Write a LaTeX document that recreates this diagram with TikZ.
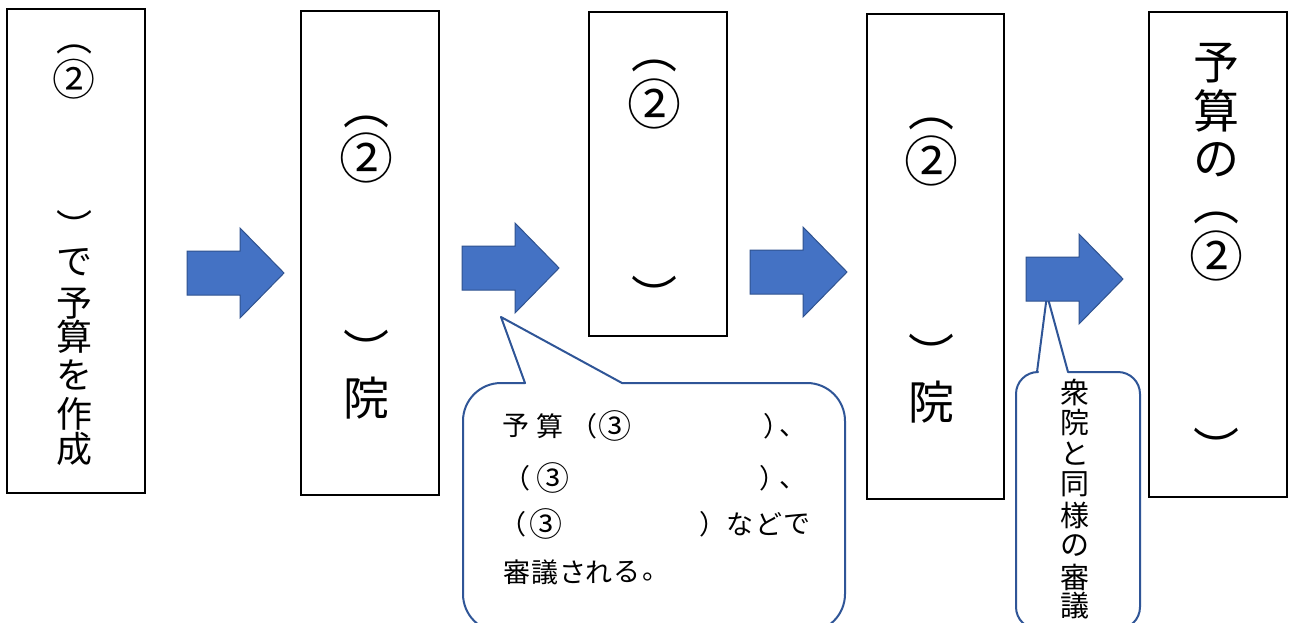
\documentclass[tikz,border=0pt]{standalone}
\usepackage{fontspec}
\newfontfamily\jp{Noto Sans CJK JP}
\definecolor{arrblue}{HTML}{4472C4}
\definecolor{arrline}{HTML}{2F528F}
\definecolor{coline}{HTML}{2F5597}
\begin{document}
\begin{tikzpicture}[x=1pt,y=-1pt,
  box/.style={draw=black,line width=1.2pt,fill=white,inner sep=0pt,outer sep=0pt,anchor=north west},
  arr/.style={fill=arrblue,draw=arrline,line width=1pt,line join=miter},
  co/.style={draw=coline,line width=2pt,line cap=round,line join=round},
  ta/.style={inner sep=0pt,font=\jp\fontsize{36}{36}\selectfont},
  tb/.style={inner sep=0pt,font=\jp\fontsize{46}{46}\selectfont},
  cna/.style={inner sep=0pt,font=\jp\fontsize{43}{43}\selectfont},
  cnb/.style={inner sep=0pt,font=\jp\fontsize{54}{54}\selectfont},
  tc/.style={inner sep=0pt,font=\jp\fontsize{27}{27}\selectfont},
  cnc/.style={inner sep=0pt,font=\jp\fontsize{33}{33}\selectfont},
  td/.style={inner sep=0pt,font=\jp\fontsize{29}{29}\selectfont},
  bigarrow/.pic={\draw[arr] (0,-22) -- (53,-22) -- (53,-45) -- (97,0) -- (53,45) -- (53,22) -- (0,22) -- cycle;}
]
\useasboundingbox (0,0) rectangle (1290,622);
\clip (0,0) rectangle (1290,622);
\fill[white] (0,0) rectangle (1290,622);

% boxes
\node[box,minimum width=138pt,minimum height=484pt] (b1) at (7,9) {};
\node[box,minimum width=138pt,minimum height=484pt] (b2) at (301,11) {};
\node[box,minimum width=138pt,minimum height=324pt] (b3) at (589,12) {};
\node[box,minimum width=137pt,minimum height=485pt] (b4) at (867,14) {};
\node[box,minimum width=138pt,minimum height=485pt] (b5) at (1149,12) {};

% callout 1
\fill[white,rounded corners=38pt] (463,383) rectangle (845,632);
\fill[white] (501,317) -- (622,384) -- (525,384) -- cycle;
\draw[co,rounded corners=38pt] (622,383) -- (845,383) -- (845,632) -- (463,632) -- (463,383) -- (525,383);
\draw[co] (525,383) -- (501,317) -- (622,383);

% callout 2
\fill[white,rounded corners=22pt] (1016,372) rectangle (1140,629);
\fill[white] (1047,295) -- (1068,373) -- (1037,373) -- cycle;
\draw[co,rounded corners=22pt] (1068,372) -- (1140,372) -- (1140,629) -- (1016,629) -- (1016,372) -- (1037,372);
\draw[co] (1037,372) -- (1047,295) -- (1068,372);

% arrows
\pic (a1) at (187,273) {bigarrow};
\pic (a2) at (462,268) {bigarrow};
\pic (a3) at (750,272) {bigarrow};
\pic (a4) at (1026,279) {bigarrow};

% box texts
\foreach \c/\y [count=\i] in {︵/49,︶/225,で/262,予/304,算/337,を/375,作/414,成/449}
  \node[ta] (p\i) at (74,\y) {\c};
\node[cna] (pn) at (74,79) {②};
\foreach \c/\y [count=\i] in {︵/122,︶/349,院/398}
  \node[tb] (q\i) at (366,\y) {\c};
\node[cnb] (qn) at (366,158) {②};
\foreach \c/\y [count=\i] in {︵/66,︶/295}
  \node[tb] (r\i) at (654,\y) {\c};
\node[cnb] (rn) at (654,104) {②};
\foreach \c/\y [count=\i] in {︵/124,︶/353,院/402}
  \node[tb] (s\i) at (931,\y) {\c};
\node[cnb] (sn) at (931,161) {②};
\foreach \c/\y [count=\i] in {予/63,算/111,の/160,︵/218,︶/447}
  \node[tb] (u\i) at (1216,\y) {\c};
\node[cnb] (un) at (1216,256) {②};

% callout 1 text
\foreach \c/\x/\y [count=\i] in {予/516/426,算/550/426,（/584/426,）/777/426,、/793/433,
  （/517/478,）/773/478,、/793/485,
  （/513/524,）/713/524,な/740/524,ど/769/524,で/797/524,
  審/517/572,議/545/572,さ/573/572,れ/599/572,る/627/572,。/656/577}
  \node[tc] (k\i) at (\x,\y) {\c};
\node[cnc] (n1) at (615,426) {③};
\node[cnc] (n2) at (553,478) {③};
\node[cnc] (n3) at (546,524) {③};

% callout 2 text
\foreach \c/\y [count=\i] in {衆/392,院/423,と/454,同/484,様/515,の/546,審/577,議/606}
  \node[td] (m\i) at (1075,\y) {\c};
\end{tikzpicture}
\end{document}
